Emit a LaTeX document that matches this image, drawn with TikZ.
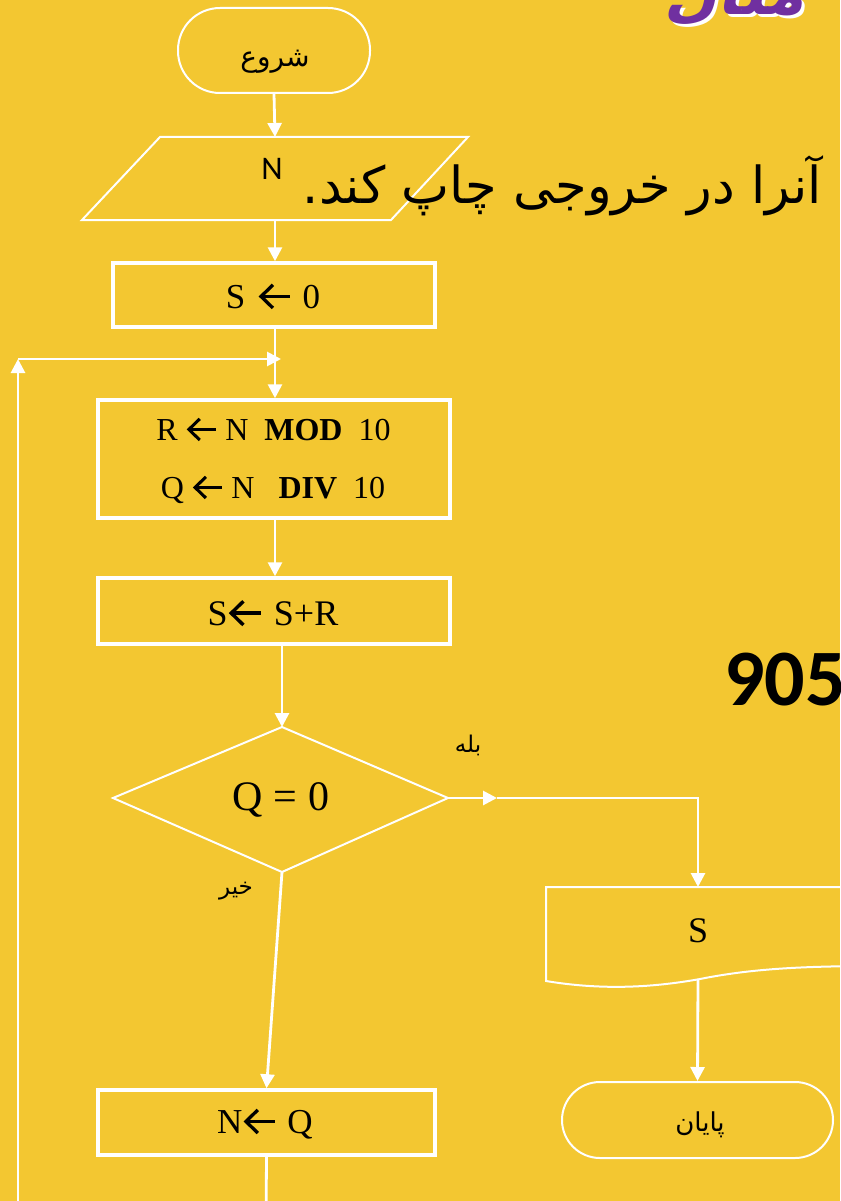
\documentclass[tikz,border=0pt]{standalone}
\usepackage{fontspec}
\usetikzlibrary{arrows.meta}
\setmainfont{Liberation Serif}
\newfontfamily\arabicfont[Script=Arabic]{DejaVu Sans}
\newfontfamily\titlefont[Script=Arabic,FakeSlant=0.2]{DejaVu Sans}
\newfontfamily\calfont{Carlito}
\TeXXeTstate=1
\definecolor{bg}{HTML}{F3C731}
\definecolor{titlepurple}{HTML}{7030A0}
\newcommand{\larr}{\tikz[baseline=0pt,x=1em,y=1em]{\draw[black,line width=0.095em,line join=miter] (0.36,0) -- (0.02,0.33) -- (0.36,0.66); \draw[black,line width=0.095em] (0.03,0.33) -- (0.86,0.33);}}
\newcommand{\fs}[1]{\fontsize{#1}{#1}\selectfont}
\begin{document}
\begin{tikzpicture}[x=1pt,y=-1pt,
  box/.style={draw=white,line width=3.5pt,inner sep=0pt},
  term/.style={draw=white,line width=2pt,inner sep=0pt},
  shapeline/.style={draw=white,line width=2pt,line join=miter},
  conn/.style={draw=white,line width=2.8pt},
  arr/.style={conn,-{Triangle[length=14pt,width=14pt]}},
  lbl/.style={inner sep=0pt,text=black},
  blbl/.style={lbl,anchor=base}]
\fill[bg] (0,0) rectangle (840,1201);
\useasboundingbox (0,0) rectangle (840,1201);
\clip (0,0) rectangle (840,1201);

% title (cut off at top)
\node[lbl,anchor=base east,text=white] (titleshadow) at (808,18) {\fs{62}\titlefont\bfseries\beginR مثال\endR};
\node[lbl,anchor=base east,text=titlepurple] (title) at (805,15) {\fs{62}\titlefont\bfseries\beginR مثال\endR};

% start
\node[term,rounded corners=42pt,minimum width=192pt,minimum height=85pt] (start) at (274,50.5) {};
\node[lbl] (starttext) at (275,62) {\fs{28}\arabicfont\beginR شروع\endR};

% input parallelogram
\draw[shapeline] (160,137) -- (468,137) -- (391,220) -- (82,220) -- cycle;
\coordinate (inTop) at (275,137);
\coordinate (inBot) at (275,220);
\node[blbl] (ntext) at (272,180) {\fs{33}\calfont N};

% overlapping arabic text
\node[lbl,anchor=base east] (overtext) at (822,204) {\fs{51}\arabicfont\beginR آنرا در خروجی چاپ کند.\endR};

% boxes
\node[box,minimum width=322pt,minimum height=64pt] (s0) at (274,295) {};
\node[blbl] (s0text) at (273,308) {\fs{35}S\hspace{0.4em}\larr\hspace{0.3em}0};
\node[box,minimum width=352pt,minimum height=118pt] (rq) at (274,459) {};
\node[blbl] (rtext) at (273.5,440) {\fs{32}R\hspace{0.3em}\larr\hspace{0.25em}N\ \ \textbf{MOD}\ \ 10};
\node[blbl] (qtextline) at (273,498) {\fs{32}Q\hspace{0.3em}\larr\hspace{0.25em}N\ \ \ \textbf{DIV}\ \ 10};
\node[box,minimum width=352pt,minimum height=66pt] (sr) at (274,611) {};
\node[blbl] (srtext) at (273,625) {\fs{36}S\hspace{0.05em}\larr\hspace{0.3em}S+R};

% decision
\coordinate (dT) at (282,727);
\coordinate (dR) at (448,798);
\coordinate (dB) at (282,872);
\coordinate (dL) at (113,798);
\draw[shapeline] (dT) -- (dR) -- (dB) -- (dL) -- cycle;
\node[blbl] (qtext) at (281,810) {\fs{42}Q = 0};
\node[lbl] (yes) at (468,745) {\fs{23}\arabicfont\beginR بله\endR};
\node[lbl] (no) at (236,891) {\fs{23}\arabicfont\beginR خیر\endR};

% N <- Q
\node[box,minimum width=337pt,minimum height=65pt] (nq) at (266.5,1122.5) {};
\node[blbl] (nqtext) at (265,1133) {\fs{35}N\hspace{0.05em}\larr\hspace{0.3em}Q};

% document output
\draw[shapeline] (880,966) -- (880,887) -- (546,887) -- (546,981)
  .. controls (600,990) and (650,988) .. (700,979)
  .. controls (750,969) and (800,966) .. (880,966);
\node[blbl] (doc) at (698,942) {\fs{36}S};
\coordinate (docTop) at (698,887);
\coordinate (docBot) at (698,979);

% end
\node[term,rounded corners=38pt,minimum width=271pt,minimum height=76pt] (stop) at (697.5,1120) {};
\node[lbl] (stoptext) at (700,1125) {\fs{26}\arabicfont\beginR پایان\endR};

% 905
\node[lbl,anchor=base west] (num) at (724,705) {\fs{80}\calfont\bfseries 905};

% connectors
\draw[arr] (start.south) -- (inTop);
\draw[arr] (inBot) -- (s0.north -| inBot);
\draw[arr] (s0.south -| inBot) -- (rq.north -| inBot);
\draw[arr] (rq.south -| inBot) -- (sr.north -| inBot);
\draw[arr] (sr.south -| dT) -- (dT);
\coordinate (yesMid) at (497,798);
\draw[arr] (dR) -- (yesMid);
\draw[arr] (yesMid) -| (docTop);
\draw[arr] (dB) -- (nq.north);
\draw[arr] (docBot) -- (stop.north);
% loop back
\coordinate (loopBotR) at (266,1230);
\coordinate (loopBotL) at (18,1230);
\coordinate (loopCorner) at (18,359);
\coordinate (loopJoin) at (281,359);
\draw[conn] (nq.south) -- (loopBotR) -- (loopBotL);
\draw[arr] (loopBotL) -- (loopCorner);
\draw[arr] (loopCorner) -- (loopJoin);
\end{tikzpicture}
\end{document}
